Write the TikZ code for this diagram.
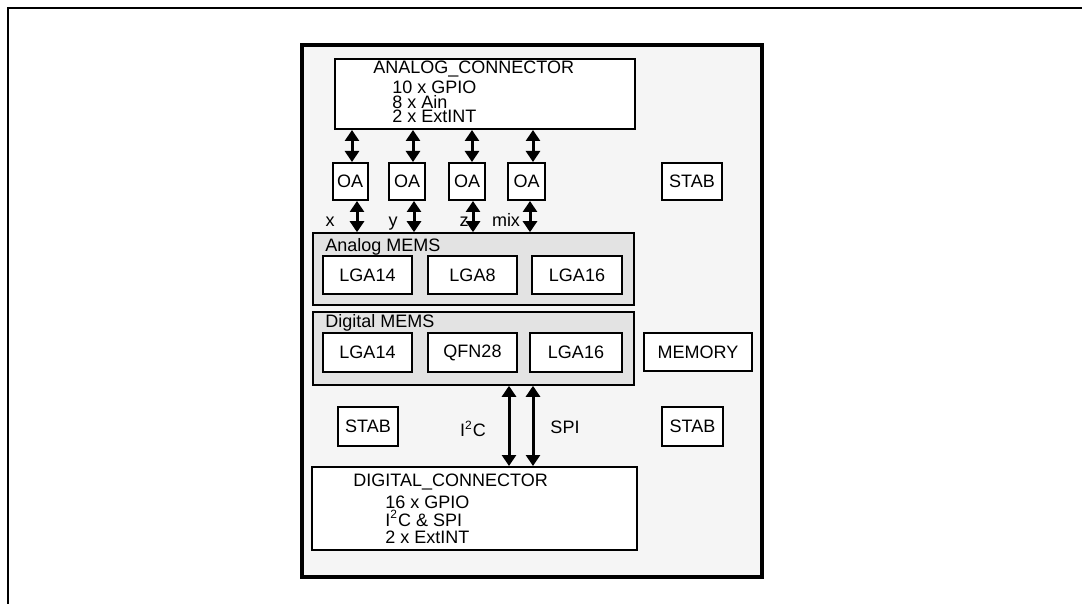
\documentclass[tikz,border=0pt]{standalone}
\usepackage{fontspec}
\setmainfont{Liberation Sans}
\usetikzlibrary{arrows.meta}
\definecolor{bdPaper}{gray}{0.96}
\definecolor{bdGroup}{gray}{0.89}
\begin{document}
\begin{tikzpicture}[x=0.5pt, y=-0.5pt, frame/.style={line width=1pt}, board/.style={draw, line width=1.6pt, fill=bdPaper, inner sep=0pt}, group/.style={draw, line width=0.8pt, fill=bdGroup, inner sep=0pt}, chip/.style={draw, line width=1pt, fill=white, inner sep=0pt}, txt/.style={inner sep=0pt}, bus/.style={{Triangle[width=7pt,length=5.5pt]}-{Triangle[width=7pt,length=5.5pt]}, line width=1.5pt}, every node/.style={font=\fontsize{9}{9}\selectfont}]
\useasboundingbox (0,0) rectangle (1082,604);
\draw[frame] (8,604) -- (8,8) -- (1082,8);
\node[board, minimum width=230pt, minimum height=266pt] (brd) at (532,311) {};
% analog side
\node[chip, minimum width=150pt, minimum height=35pt] (ac) at (485,94) {};
\node[txt, anchor=base west] (ach) at (373,74) {ANALOG\_CONNECTOR};
\node[txt, anchor=base west] (ac1) at (392,94) {10 x GPIO};
\node[txt, anchor=base west] (ac2) at (392,108.5) {8 x Ain};
\node[txt, anchor=base west] (ac3) at (392,123) {2 x ExtINT};
\node[chip, minimum width=17.5pt, minimum height=18.5pt] (oa1) at (350,181.5) {OA};
\node[chip, minimum width=18pt, minimum height=18.5pt] (oa2) at (407,181.5) {OA};
\node[chip, minimum width=18pt, minimum height=18.5pt] (oa3) at (467,181.5) {OA};
\node[chip, minimum width=18.5pt, minimum height=18.5pt] (oa4) at (526.5,181.5) {OA};
\node[chip, minimum width=30pt, minimum height=18.5pt] (stab1) at (692,181.5) {STAB};
\node[group, minimum width=160.5pt, minimum height=36pt] (am) at (473.5,269) {};
\node[txt, anchor=base west] (amt) at (325,251.5) {Analog MEMS};
\node[chip, minimum width=44.5pt, minimum height=19pt] (a14) at (367.5,275) {LGA14};
\node[chip, minimum width=44.5pt, minimum height=19pt] (a8) at (472.5,275) {LGA8};
\node[chip, minimum width=45pt, minimum height=19pt] (a16) at (577,275) {LGA16};
% digital side
\node[group, minimum width=160.5pt, minimum height=36.5pt] (dm) at (473.5,348.5) {};
\node[txt, anchor=base west] (dmt) at (325,328) {Digital MEMS};
\node[chip, minimum width=44.5pt, minimum height=19.5pt] (d14) at (367.5,352.5) {LGA14};
\node[chip, minimum width=44.5pt, minimum height=19.5pt] (q28) at (472.5,352.5) {QFN28};
\node[chip, minimum width=46pt, minimum height=19.5pt] (d16) at (576,352.5) {LGA16};
\node[chip, minimum width=54pt, minimum height=19pt] (mem) at (698,352) {MEMORY};
\node[chip, minimum width=30pt, minimum height=19.5pt] (stab2) at (368,426.5) {STAB};
\node[chip, minimum width=30.5pt, minimum height=19.5pt] (stab3) at (692.5,426.5) {STAB};
\node[chip, minimum width=162.5pt, minimum height=41.5pt] (dc) at (474.5,508.5) {};
\node[txt, anchor=base west] (dch) at (353,486) {DIGITAL\_CONNECTOR};
\node[txt, anchor=base west] (dc1) at (385,508.3) {16 x GPIO};
\node[txt, anchor=base west] (dc2) at (385,526.5) {I\textsuperscript{2}C \& SPI};
\node[txt, anchor=base west] (dc3) at (385,543.3) {2 x ExtINT};
% bus arrows
\coordinate (u1) at (352,0);
\coordinate (u2) at (413,0);
\coordinate (u3) at (472,0);
\coordinate (u4) at (533,0);
\coordinate (l1) at (357,0);
\coordinate (l2) at (414,0);
\coordinate (l3) at (473,0);
\coordinate (l4) at (530,0);
\coordinate (bi) at (509,0);
\coordinate (bs) at (533,0);
\draw[bus] (ac.south -| u1) -- (oa1.north -| u1);
\draw[bus] (ac.south -| u2) -- (oa2.north -| u2);
\draw[bus] (ac.south -| u3) -- (oa3.north -| u3);
\draw[bus] (ac.south -| u4) -- (oa4.north -| u4);
\draw[bus] (oa1.south -| l1) -- (am.north -| l1);
\draw[bus] (oa2.south -| l2) -- (am.north -| l2);
\draw[bus] (oa3.south -| l3) -- (am.north -| l3);
\draw[bus] (oa4.south -| l4) -- (am.north -| l4);
\draw[bus] (dm.south -| bi) -- (dc.north -| bi);
\draw[bus] (dm.south -| bs) -- (dc.north -| bs);
\node[txt, anchor=base] (lx) at (330,226.5) {x};
\node[txt, anchor=base] (ly) at (393,226.5) {y};
\node[txt, anchor=base] (lz) at (464,226.5) {z};
\node[txt, anchor=base] (lmix) at (506,226.5) {mix};
\node[txt, anchor=base] (li2c) at (473,437) {I\textsuperscript{2}C};
\node[txt, anchor=base] (lspi) at (565,433) {SPI};
\end{tikzpicture}
\end{document}
